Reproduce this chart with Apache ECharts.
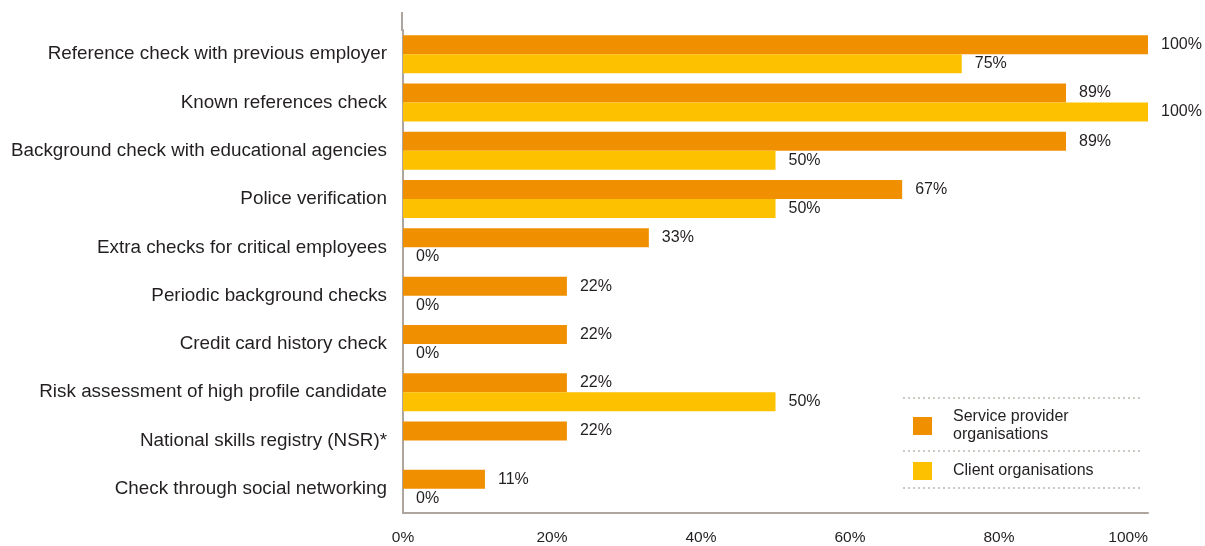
<!DOCTYPE html>
<html>
<head>
<meta charset="utf-8">
<script src="https://cdn.jsdelivr.net/npm/echarts@6/dist/echarts.min.js"></script>
<style>
  html, body { margin: 0; padding: 0; background: #ffffff; }
  #chart { width: 1205px; height: 546px; }
</style>
</head>
<body>
<div id="chart"></div>
<script>
// Screening checks used, share of respondents (%)
const categories = [
  'Reference check with previous employer',
  'Known references check',
  'Background check with educational agencies',
  'Police verification',
  'Extra checks for critical employees',
  'Periodic background checks',
  'Credit card history check',
  'Risk assessment of high profile candidate',
  'National skills registry (NSR)*',
  'Check through social networking'
];
const serviceProvider = [100, 89, 89, 67, 33, 22, 22, 22, 22, 11];
const clientOrgs = [75, 100, 50, 50, 0, 0, 0, 50, null, 0];
const seriesNames = ['Service provider organisations', 'Client organisations'];
const axisTicks = [0, 20, 40, 60, 80, 100];

const FONT = "'Liberation Sans', Arial, Helvetica, sans-serif";
const TEXT = '#231f20';
const AXIS = '#ada59e';
const ORANGE = '#f09000';
const YELLOW = '#fdc100';

const chart = echarts.init(document.getElementById('chart'), null, { renderer: 'canvas' });

function valueLabel() {
  return {
    show: true,
    position: 'right',
    distance: 13,
    formatter: p => p.value + '%',
    fontFamily: FONT,
    fontSize: 16,
    color: TEXT
  };
}

function dottedRule(y) {
  return {
    type: 'line',
    shape: { x1: 903, y1: y, x2: 1140, y2: y },
    style: { stroke: '#cfc9c3', lineWidth: 2, lineDash: [2, 3] },
    silent: true
  };
}

const legendText = { fontFamily: FONT, fontSize: 16, color: TEXT, lineHeight: 18, padding: [0, 0, 0, 16] };

chart.setOption({
  animation: false,
  textStyle: { fontFamily: FONT },
  grid: { left: 403, right: 57, top: 30, bottom: 33 },
  xAxis: {
    type: 'value',
    min: axisTicks[0],
    max: axisTicks[axisTicks.length - 1],
    interval: axisTicks[1] - axisTicks[0],
    axisLine: { show: true, lineStyle: { color: AXIS, width: 2 } },
    axisTick: { show: false },
    splitLine: { show: false },
    axisLabel: {
      formatter: '{value}%',
      fontFamily: FONT,
      fontSize: 15.5,
      color: TEXT,
      margin: 17,
      alignMaxLabel: 'right'
    }
  },
  yAxis: {
    type: 'category',
    data: categories,
    inverse: true,
    axisLine: { show: true, lineStyle: { color: AXIS, width: 2 } },
    axisTick: { show: false },
    axisLabel: {
      fontFamily: FONT,
      fontSize: 18.85,
      color: TEXT,
      margin: 16
    }
  },
  legend: [
    {
      data: [seriesNames[0]],
      left: 913,
      top: 408,
      padding: 0,
      itemWidth: 19,
      itemHeight: 18,
      icon: 'rect',
      formatter: () => 'Service provider\norganisations',
      textStyle: legendText,
      selectedMode: false
    },
    {
      data: [seriesNames[1]],
      left: 913,
      top: 462,
      padding: 0,
      itemWidth: 19,
      itemHeight: 18,
      icon: 'rect',
      textStyle: legendText,
      selectedMode: false
    }
  ],
  series: [
    {
      name: seriesNames[0],
      type: 'bar',
      data: serviceProvider,
      barWidth: 19,
      barGap: '0%',
      itemStyle: { color: ORANGE },
      label: valueLabel()
    },
    {
      name: seriesNames[1],
      type: 'bar',
      data: clientOrgs,
      barWidth: 19,
      itemStyle: { color: YELLOW },
      label: valueLabel()
    }
  ],
  graphic: [
    {
      type: 'line',
      shape: { x1: 402, y1: 12, x2: 402, y2: 31 },
      style: { stroke: AXIS, lineWidth: 2 },
      silent: true
    },
    dottedRule(398),
    dottedRule(451),
    dottedRule(488)
  ]
});
</script>
</body>
</html>
